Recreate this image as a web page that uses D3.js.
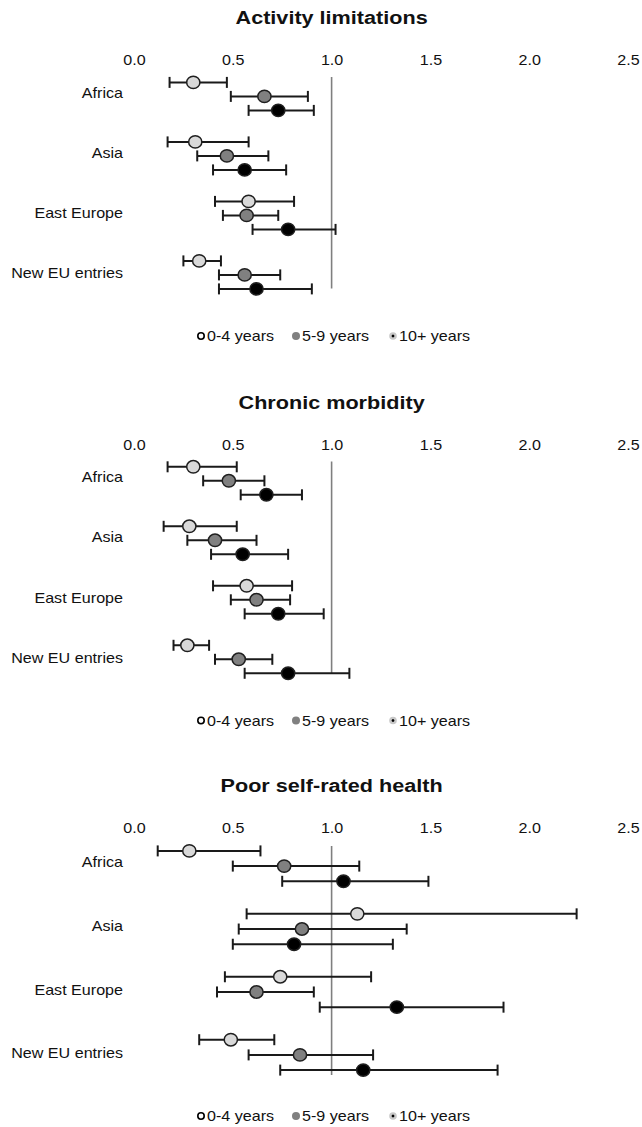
<!DOCTYPE html>
<html>
<head>
<meta charset="utf-8">
<script src="https://cdn.jsdelivr.net/npm/d3@7"></script>
<style>
  body { margin: 0; background: #fff; }
  text { font-family: "Liberation Sans", Arial, sans-serif; fill: #111; }
  .title { font-weight: bold; font-size: 18.8px; }
  .axis text { font-size: 14px; }
  .axis .domain { display: none; }
  .cat, .legend text { font-size: 14px; }
</style>
</head>
<body>
<div id="chart"></div>
<script>
// Data
const categories = ['Africa', 'Asia', 'East Europe', 'New EU entries'];
const seriesNames = ['0-4 years', '5-9 years', '10+ years'];
const tickValues = [0, 0.5, 1, 1.5, 2, 2.5];

// rows = categories, columns = series
const activityEst = [[0.30, 0.66, 0.73], [0.31, 0.47, 0.56], [0.58, 0.57, 0.78], [0.33, 0.56, 0.62]];
const activityLow = [[0.18, 0.49, 0.58], [0.17, 0.32, 0.40], [0.41, 0.45, 0.60], [0.25, 0.43, 0.43]];
const activityHigh = [[0.47, 0.88, 0.91], [0.58, 0.68, 0.77], [0.81, 0.73, 1.02], [0.44, 0.74, 0.90]];

const chronicEst = [[0.30, 0.48, 0.67], [0.28, 0.41, 0.55], [0.57, 0.62, 0.73], [0.27, 0.53, 0.78]];
const chronicLow = [[0.17, 0.35, 0.54], [0.15, 0.27, 0.39], [0.40, 0.49, 0.56], [0.20, 0.41, 0.56]];
const chronicHigh = [[0.52, 0.66, 0.85], [0.52, 0.62, 0.78], [0.80, 0.79, 0.96], [0.38, 0.70, 1.09]];

const healthEst = [[0.28, 0.76, 1.06], [1.13, 0.85, 0.81], [0.74, 0.62, 1.33], [0.49, 0.84, 1.16]];
const healthLow = [[0.12, 0.50, 0.75], [0.57, 0.53, 0.50], [0.46, 0.42, 0.94], [0.33, 0.58, 0.74]];
const healthHigh = [[0.64, 1.14, 1.49], [2.24, 1.38, 1.31], [1.20, 0.91, 1.87], [0.71, 1.21, 1.84]];

// Layout
let width = 642;
let height = 1127;
let stretch = 'scale(1.15,1)';
let fills = ['#d9d9d9', '#808080', '#000000'];

let panels = [
  { title: 'Activity limitations', est: activityEst, low: activityLow, high: activityHigh,
    titleY: 24, tickY: 65, labels: [92.5, 273.4], groups: [96.4, 274.9], rowGap: 14,
    line: [77, 288.5], legendY: 336 },
  { title: 'Chronic morbidity', est: chronicEst, low: chronicLow, high: chronicHigh,
    titleY: 408.5, tickY: 449.5, labels: [477, 657.8], groups: [480.8, 659.3], rowGap: 14,
    line: [461.5, 673], legendY: 720.5 },
  { title: 'Poor self-rated health', est: healthEst, low: healthLow, high: healthHigh,
    titleY: 792, tickY: 833, labels: [861.7, 1053.4], groups: [866.1, 1054.9], rowGap: 15.2,
    line: [846, 1075], legendY: 1116 }
];

// Scales
let x = d3.scaleLinear()
  .domain([0, 2.5])
  .range([134, 628]);

let svg = d3.select('#chart')
  .append('svg')
  .attr('width', width)
  .attr('height', height);

panels.forEach(p => {
  let yLabel = d3.scalePoint()
    .domain(categories)
    .range(p.labels);
  let yGroup = d3.scalePoint()
    .domain(categories)
    .range(p.groups);
  let ySeries = d3.scalePoint()
    .domain(seriesNames)
    .range([-p.rowGap, p.rowGap]);
  let rowY = d => yGroup(d.cat) + ySeries(d.series);

  let g = svg.append('g');

  // Title
  g.append('text')
    .attr('class', 'title')
    .attr('text-anchor', 'middle')
    .attr('transform', `translate(${x(1)},${p.titleY}) ${stretch}`)
    .text(p.title);

  // Axis labels on top
  let axis = g.append('g')
    .attr('class', 'axis')
    .attr('transform', `translate(0,${p.tickY})`)
    .call(d3.axisTop(x).tickValues(tickValues).tickFormat(d3.format('.1f')).tickSize(0).tickPadding(0));
  axis.selectAll('line').remove();
  axis.selectAll('text')
    .attr('y', 0)
    .attr('dy', 0)
    .attr('transform', stretch);

  // Reference line at 1.0
  g.append('line')
    .attr('x1', x(1)).attr('x2', x(1))
    .attr('y1', p.line[0]).attr('y2', p.line[1])
    .attr('stroke', '#7f7f7f')
    .attr('stroke-width', 1.6);

  // Category labels
  g.selectAll('.cat')
    .data(categories)
    .enter()
    .append('text')
    .attr('class', 'cat')
    .attr('text-anchor', 'end')
    .attr('transform', d => `translate(123,${yLabel(d) + 5}) ${stretch}`)
    .text(d => d);

  // Points with confidence intervals
  let pts = [];
  categories.forEach((c, ci) => {
    seriesNames.forEach((s, si) => {
      pts.push({ cat: c, series: s, si: si, est: p.est[ci][si], low: p.low[ci][si], high: p.high[ci][si] });
    });
  });

  let bars = g.selectAll('.ci')
    .data(pts)
    .enter()
    .append('g')
    .attr('class', 'ci')
    .attr('stroke', '#1a1a1a')
    .attr('stroke-width', 2);
  bars.append('line')
    .attr('x1', d => x(d.low)).attr('x2', d => x(d.high))
    .attr('y1', rowY).attr('y2', rowY);
  bars.append('line')
    .attr('x1', d => x(d.low)).attr('x2', d => x(d.low))
    .attr('y1', d => rowY(d) - 5.5).attr('y2', d => rowY(d) + 5.5);
  bars.append('line')
    .attr('x1', d => x(d.high)).attr('x2', d => x(d.high))
    .attr('y1', d => rowY(d) - 5.5).attr('y2', d => rowY(d) + 5.5);
  bars.append('ellipse')
    .attr('cx', d => x(d.est))
    .attr('cy', rowY)
    .attr('rx', 6.6)
    .attr('ry', 6.2)
    .attr('fill', d => fills[d.si])
    .attr('stroke', '#1f1f1f')
    .attr('stroke-width', 1.5);

  // Legend
  let legendX = [201, 296, 393];
  let leg = g.selectAll('.legend')
    .data(seriesNames)
    .enter()
    .append('g')
    .attr('class', 'legend')
    .attr('transform', (d, i) => `translate(${legendX[i]},${p.legendY})`);
  leg.append('circle')
    .attr('r', (d, i) => [3.2, 4, 2.6][i])
    .attr('fill', (d, i) => ['#ffffff', '#808080', '#000000'][i])
    .attr('stroke', (d, i) => ['#000000', 'none', '#c8c8c8'][i])
    .attr('stroke-width', (d, i) => [1.6, 0, 2.4][i]);
  leg.append('text')
    .attr('transform', `translate(6,5) ${stretch}`)
    .text(d => d);
});
</script>
</body>
</html>
